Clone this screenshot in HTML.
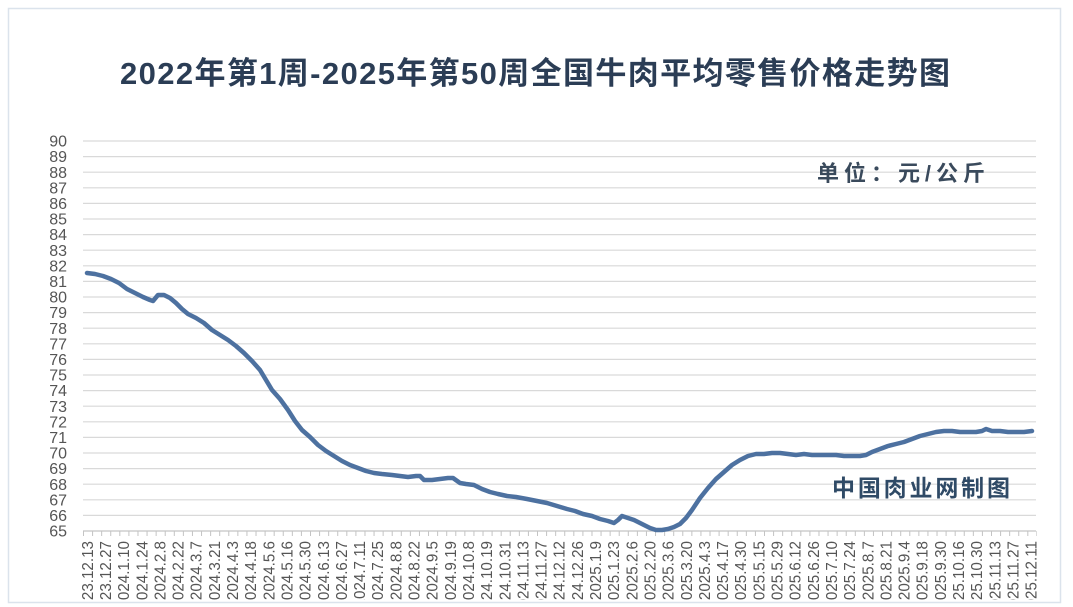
<!DOCTYPE html>
<html><head><meta charset="utf-8"><style>
html,body{margin:0;padding:0;background:#fff;}
svg{display:block;}
</style></head><body>
<svg width="1073" height="607" viewBox="0 0 1073 607" xmlns="http://www.w3.org/2000/svg">
<defs><clipPath id="c"><rect x="0" y="0" width="1073" height="600"/></clipPath></defs>
<rect x="0" y="0" width="1073" height="607" fill="#fff"/>
<rect x="8.5" y="8.5" width="1052" height="594" fill="#fff" stroke="#dbe3ec" stroke-width="1.5"/>
<text x="120" y="84" textLength="830" lengthAdjust="spacing" font-family="'Liberation Sans','Noto Sans CJK SC',sans-serif" font-size="31" font-weight="bold" fill="#2b3d55">2022年第1周-2025年第50周全国牛肉平均零售价格走势图</text>
<path stroke="#d9d9d9" stroke-width="1.2" fill="none" d="M83 141H1036M83 156.6H1036M83 172.2H1036M83 187.8H1036M83 203.4H1036M83 219H1036M83 234.6H1036M83 250.2H1036M83 265.8H1036M83 281.4H1036M83 297H1036M83 312.6H1036M83 328.2H1036M83 343.8H1036M83 359.4H1036M83 375H1036M83 390.6H1036M83 406.2H1036M83 421.8H1036M83 437.4H1036M83 453H1036M83 468.6H1036M83 484.2H1036M83 499.8H1036M83 515.4H1036"/>
<g font-family="'Liberation Sans',sans-serif" font-size="16" fill="#555" text-anchor="end">
<text x="67" y="146.6">90</text><text x="67" y="162.2">89</text><text x="67" y="177.8">88</text><text x="67" y="193.4">87</text><text x="67" y="209">86</text><text x="67" y="224.6">85</text><text x="67" y="240.2">84</text><text x="67" y="255.8">83</text><text x="67" y="271.4">82</text><text x="67" y="287">81</text><text x="67" y="302.6">80</text><text x="67" y="318.2">79</text><text x="67" y="333.8">78</text><text x="67" y="349.4">77</text><text x="67" y="365">76</text><text x="67" y="380.6">75</text><text x="67" y="396.2">74</text><text x="67" y="411.8">73</text><text x="67" y="427.4">72</text><text x="67" y="443">71</text><text x="67" y="458.6">70</text><text x="67" y="474.2">69</text><text x="67" y="489.8">68</text><text x="67" y="505.4">67</text><text x="67" y="521">66</text><text x="67" y="536.6">65</text>
</g>
<line x1="83" y1="531" x2="1036" y2="531" stroke="#c4c4c4" stroke-width="1.2"/>
<line x1="83" y1="533.5" x2="1037" y2="533.5" stroke="#c4c4c4" stroke-width="5" stroke-dasharray="1 8.08"/>
<g clip-path="url(#c)" font-family="'Liberation Sans',sans-serif" font-size="16" fill="#555" text-anchor="end">
<text transform="translate(92.8,541) rotate(-90) scale(0.95,1)">2023.12.13</text>
<text transform="translate(110.95,541) rotate(-90) scale(0.95,1)">2023.12.27</text>
<text transform="translate(129.1,541) rotate(-90) scale(0.95,1)">2024.1.10</text>
<text transform="translate(147.25,541) rotate(-90) scale(0.95,1)">2024.1.24</text>
<text transform="translate(165.4,541) rotate(-90) scale(0.95,1)">2024.2.8</text>
<text transform="translate(183.55,541) rotate(-90) scale(0.95,1)">2024.2.22</text>
<text transform="translate(201.7,541) rotate(-90) scale(0.95,1)">2024.3.7</text>
<text transform="translate(219.85,541) rotate(-90) scale(0.95,1)">2024.3.21</text>
<text transform="translate(238,541) rotate(-90) scale(0.95,1)">2024.4.3</text>
<text transform="translate(256.15,541) rotate(-90) scale(0.95,1)">2024.4.18</text>
<text transform="translate(274.3,541) rotate(-90) scale(0.95,1)">2024.5.6</text>
<text transform="translate(292.45,541) rotate(-90) scale(0.95,1)">2024.5.16</text>
<text transform="translate(310.6,541) rotate(-90) scale(0.95,1)">2024.5.30</text>
<text transform="translate(328.75,541) rotate(-90) scale(0.95,1)">2024.6.13</text>
<text transform="translate(346.9,541) rotate(-90) scale(0.95,1)">2024.6.27</text>
<text transform="translate(365.05,541) rotate(-90) scale(0.95,1)">2024.7.11</text>
<text transform="translate(383.2,541) rotate(-90) scale(0.95,1)">2024.7.25</text>
<text transform="translate(401.35,541) rotate(-90) scale(0.95,1)">2024.8.8</text>
<text transform="translate(419.5,541) rotate(-90) scale(0.95,1)">2024.8.22</text>
<text transform="translate(437.65,541) rotate(-90) scale(0.95,1)">2024.9.5</text>
<text transform="translate(455.8,541) rotate(-90) scale(0.95,1)">2024.9.19</text>
<text transform="translate(473.95,541) rotate(-90) scale(0.95,1)">2024.10.8</text>
<text transform="translate(492.1,541) rotate(-90) scale(0.95,1)">2024.10.19</text>
<text transform="translate(510.25,541) rotate(-90) scale(0.95,1)">2024.10.31</text>
<text transform="translate(528.4,541) rotate(-90) scale(0.95,1)">2024.11.13</text>
<text transform="translate(546.55,541) rotate(-90) scale(0.95,1)">2024.11.27</text>
<text transform="translate(564.7,541) rotate(-90) scale(0.95,1)">2024.12.12</text>
<text transform="translate(582.85,541) rotate(-90) scale(0.95,1)">2024.12.26</text>
<text transform="translate(601,541) rotate(-90) scale(0.95,1)">2025.1.9</text>
<text transform="translate(619.15,541) rotate(-90) scale(0.95,1)">2025.1.23</text>
<text transform="translate(637.3,541) rotate(-90) scale(0.95,1)">2025.2.6</text>
<text transform="translate(655.45,541) rotate(-90) scale(0.95,1)">2025.2.20</text>
<text transform="translate(673.6,541) rotate(-90) scale(0.95,1)">2025.3.6</text>
<text transform="translate(691.75,541) rotate(-90) scale(0.95,1)">2025.3.20</text>
<text transform="translate(709.9,541) rotate(-90) scale(0.95,1)">2025.4.3</text>
<text transform="translate(728.05,541) rotate(-90) scale(0.95,1)">2025.4.17</text>
<text transform="translate(746.2,541) rotate(-90) scale(0.95,1)">2025.4.30</text>
<text transform="translate(764.35,541) rotate(-90) scale(0.95,1)">2025.5.15</text>
<text transform="translate(782.5,541) rotate(-90) scale(0.95,1)">2025.5.29</text>
<text transform="translate(800.65,541) rotate(-90) scale(0.95,1)">2025.6.12</text>
<text transform="translate(818.8,541) rotate(-90) scale(0.95,1)">2025.6.26</text>
<text transform="translate(836.95,541) rotate(-90) scale(0.95,1)">2025.7.10</text>
<text transform="translate(855.1,541) rotate(-90) scale(0.95,1)">2025.7.24</text>
<text transform="translate(873.25,541) rotate(-90) scale(0.95,1)">2025.8.7</text>
<text transform="translate(891.4,541) rotate(-90) scale(0.95,1)">2025.8.21</text>
<text transform="translate(909.55,541) rotate(-90) scale(0.95,1)">2025.9.4</text>
<text transform="translate(927.7,541) rotate(-90) scale(0.95,1)">2025.9.18</text>
<text transform="translate(945.85,541) rotate(-90) scale(0.95,1)">2025.9.30</text>
<text transform="translate(964,541) rotate(-90) scale(0.95,1)">2025.10.16</text>
<text transform="translate(982.15,541) rotate(-90) scale(0.95,1)">2025.10.30</text>
<text transform="translate(1000.3,541) rotate(-90) scale(0.95,1)">2025.11.13</text>
<text transform="translate(1018.45,541) rotate(-90) scale(0.95,1)">2025.11.27</text>
<text transform="translate(1036.6,541) rotate(-90) scale(0.95,1)">2025.12.11</text>
</g>
<text x="817" y="181" textLength="168" lengthAdjust="spacing" font-family="'Liberation Sans','Noto Sans CJK SC',sans-serif" font-size="22" font-weight="bold" fill="#3a4a5c">单位：元/公斤</text>
<text x="832" y="496" textLength="178" lengthAdjust="spacing" font-family="'Liberation Sans','Noto Sans CJK SC',sans-serif" font-size="23" font-weight="bold" fill="#2f4a66">中国肉业网制图</text>
<polyline fill="none" stroke="#4d71a0" stroke-width="4.5" stroke-linejoin="round" stroke-linecap="round" points="87,273 95,274 103,276 111,279 119,283 127,289 135,293 143,297 150,300 153,301 158,295 164,295 170,298 176,303 182,309 188,314 196,318 204,323 212,330 220,335 228,340 236,346 244,353 252,361 260,370 266,380 272,390 280,399 288,410 295,421 302,430 310,437 318,445 326,451 334,456 342,461 350,465 358,468 366,471 374,473 382,474 392,475 400,476 408,477 416,476 420,476 424,480 432,480 440,479 448,478 453,478 460,483 466,484 474,485 482,489 490,492 498,494 507,496 516,497 527,499 537,501 547,503 557,506 567,509 575,511 583,514 592,516 600,519 608,521 614,523 618,520 622,516 628,518 634,520 642,524 650,528 656,530 662,530 668,529 674,527 680,524 686,518 692,510 700,498 708,488 716,479 724,472 732,465 740,460 748,456 756,454 764,454 772,453 780,453 788,454 796,455 804,454 812,455 820,455 828,455 836,455 844,456 852,456 860,456 866,455 872,452 880,449 888,446 896,444 904,442 912,439 920,436 928,434 936,432 944,431 952,431 960,432 968,432 976,432 982,431 986,429 992,431 1000,431 1008,432 1016,432 1024,432 1032,431"/>
</svg>
</body></html>
